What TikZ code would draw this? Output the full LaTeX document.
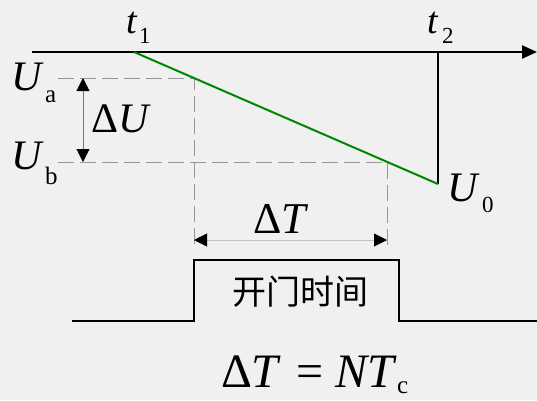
\documentclass[tikz,border=0pt]{standalone}
\usepackage{fontspec}
\setmainfont{Liberation Serif}
\newfontfamily\cjk{Noto Sans CJK SC}
\usetikzlibrary{arrows.meta}
\newcommand\fs[1]{\fontsize{#1}{#1}\selectfont}
\definecolor{bgc}{RGB}{240,240,240}
\definecolor{grn}{RGB}{0,135,0}
\definecolor{dsh}{RGB}{150,150,150}
\begin{document}
\begin{tikzpicture}[x=1pt,y=-1pt,
  thick line/.style={line width=2.2pt,black},
  guide/.style={dsh,line width=0.9pt,dash pattern=on 16pt off 6pt},
  headtip/.tip={Triangle[length=13pt,width=13pt,color=black]},
  dim/.style={line width=0.9pt,headtip-headtip},
  lbl/.style={anchor=base west,inner sep=0pt,outer sep=0pt},
  main/.style={lbl,font=\fs{42}},
  subs/.style={lbl,font=\fs{25}}]
\fill[bgc] (0,0) rectangle (537,400);
\useasboundingbox (0,0) rectangle (537,400);
% coordinates
\coordinate (ax0) at (32,52);
\coordinate (ax1) at (537,52);
\coordinate (p1) at (134,52);
\coordinate (p2) at (438,52);
\coordinate (u0) at (438,184);
\coordinate (ua) at (58,78);
\coordinate (ga) at (194,78);
\coordinate (ub) at (58,162);
\coordinate (gb) at (387,162);
\coordinate (va) at (194,250);
\coordinate (vb) at (387,250);
\coordinate (du0) at (83,78);
\coordinate (du1) at (83,162);
\coordinate (dt0) at (194,240);
\coordinate (dt1) at (387,240);
\coordinate (q0) at (72,321);
\coordinate (q1) at (194,321);
\coordinate (q2) at (194,260);
\coordinate (q3) at (399,260);
\coordinate (q4) at (399,321);
\coordinate (q5) at (537,321);
% guides
\draw[guide] (ua) -- (ga) -- (va);
\draw[guide] (ub) -- (gb) -- (vb);
% axis
\draw[thick line,-{Triangle[length=15pt,width=13pt]}] (ax0) -- (ax1);
\draw[thick line] (p2) -- (u0);
\draw[grn,line width=2pt] (p1) -- (u0);
% dimension arrows
\draw[dim,draw={rgb,255:red,120;green,120;blue,120}] (du0) -- (du1);
\draw[dim,draw={rgb,255:red,195;green,195;blue,195}] (dt0) -- (dt1);
% pulse
\draw[thick line] (q0) -- (q1) -- (q2) -- (q3) -- (q4) -- (q5);
% labels
\node[lbl,font=\fs{38}] (t1l) at (126,33) {\textit{t}};
\node[subs,font=\fs{23}] (t1s) at (139,43) {1};
\node[lbl,font=\fs{38}] (t2l) at (427,33) {\textit{t}};
\node[subs,font=\fs{23}] (t2s) at (442,43) {2};
\node[main] (ual) at (12,90) {\textit{U}};
\node[subs] (uas) at (45,102) {a};
\node[main] (ubl) at (12,169) {\textit{U}};
\node[subs] (ubs) at (45,184) {b};
\node[main] (dul) at (91,132) {Δ\textit{U}};
\node[main] (u0l) at (447,201) {\textit{U}};
\node[subs,font=\fs{23}] (u0s) at (482,212) {0};
\node[lbl,font=\fs{44}] (dtl) at (253,233) {Δ\textit{T}};
\node[inner sep=0pt,font=\cjk\fs{34}] (gate) at (300,292) {开门时间};
\node[lbl,font=\fs{48}] (f1) at (221,387) {Δ\textit{T}};
\node[lbl,font=\fs{48}] (f2) at (296,387) {=};
\node[lbl,font=\fs{48}] (f3) at (335,387) {\textit{NT}};
\node[subs,font=\fs{25}] (f4) at (397,393) {c};
\end{tikzpicture}
\end{document}
